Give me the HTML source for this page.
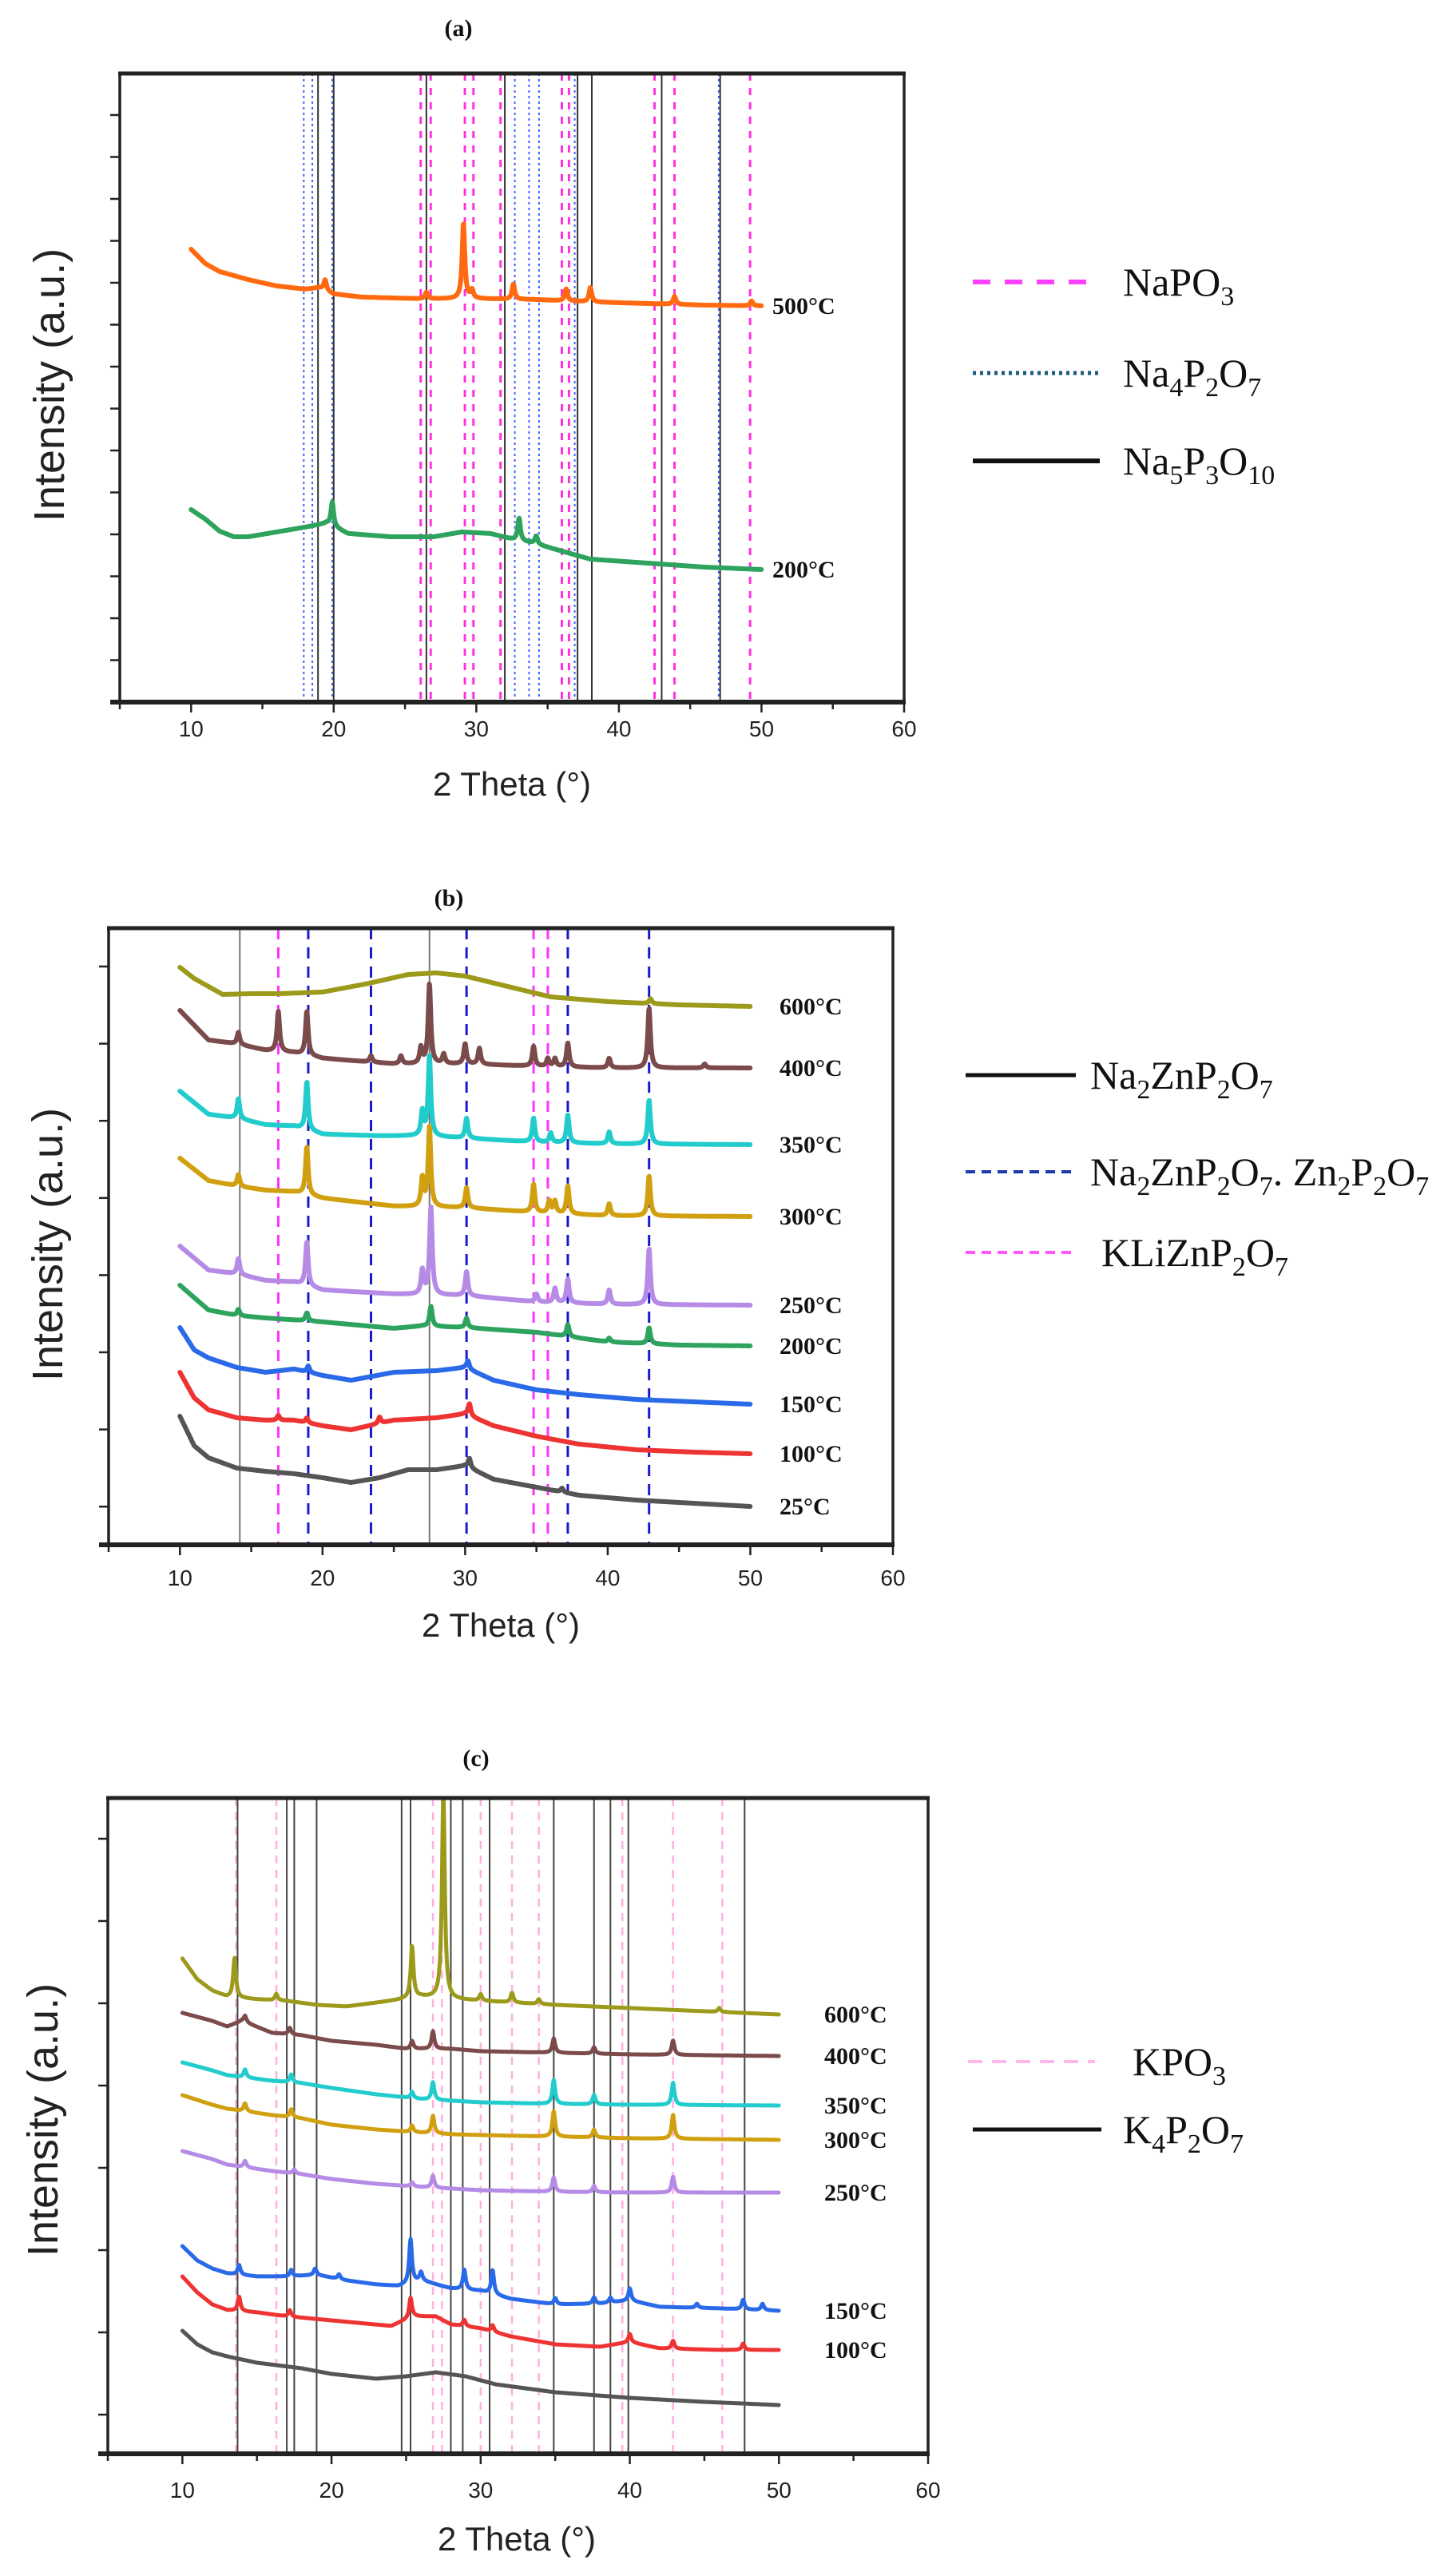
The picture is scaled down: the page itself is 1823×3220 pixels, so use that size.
<!DOCTYPE html>
<html><head><meta charset="utf-8"><title>XRD patterns</title>
<style>
html,body{margin:0;padding:0;background:#fff;}
svg{display:block;}
.tick{font-family:"Liberation Sans",sans-serif;font-size:28px;fill:#222;}
.axt{font-family:"Liberation Sans",sans-serif;font-size:42px;fill:#222;}
.ylab{font-family:"Liberation Sans",sans-serif;font-size:54px;fill:#222;}
.ttl{font-family:"Liberation Serif",serif;font-size:30px;font-weight:bold;fill:#111;}
.tl{font-family:"Liberation Serif",serif;font-size:30px;font-weight:bold;fill:#111;}
.leg{font-family:"Liberation Serif",serif;font-size:50px;fill:#111;}
</style></head>
<body>
<svg id="fig" width="1823" height="3220" viewBox="0 0 1823 3220" xmlns="http://www.w3.org/2000/svg">
<defs>
<clipPath id="clipA"><rect x="150" y="92" width="982" height="787"/></clipPath>
<clipPath id="clipB"><rect x="136" y="1162" width="982" height="772"/></clipPath>
<clipPath id="clipC"><rect x="135" y="2251" width="1027" height="821"/></clipPath>
</defs>
<text class="ttl" x="574" y="45" text-anchor="middle">(a)</text>
<text class="ttl" x="562" y="1134" text-anchor="middle">(b)</text>
<text class="ttl" x="596" y="2211" text-anchor="middle">(c)</text>

<g>
<line x1="1218" y1="353" x2="1377" y2="353" stroke="#ff40ff" stroke-width="6" stroke-dasharray="22 18"/>
<text class="leg" x="1406" y="370">NaPO<tspan font-size="34" dy="12">3</tspan></text>
<line x1="1218" y1="467" x2="1377" y2="467" stroke="#1a5a80" stroke-width="5" stroke-dasharray="4 5"/>
<text class="leg" x="1406" y="484">Na<tspan font-size="34" dy="12">4</tspan><tspan dy="-12">P</tspan><tspan font-size="34" dy="12">2</tspan><tspan dy="-12">O</tspan><tspan font-size="34" dy="12">7</tspan></text>
<line x1="1218" y1="577" x2="1377" y2="577" stroke="#111" stroke-width="6"/>
<text class="leg" x="1406" y="594">Na<tspan font-size="34" dy="12">5</tspan><tspan dy="-12">P</tspan><tspan font-size="34" dy="12">3</tspan><tspan dy="-12">O</tspan><tspan font-size="34" dy="12">10</tspan></text>
</g>
<g>
<line x1="1209" y1="1346" x2="1347" y2="1346" stroke="#111" stroke-width="5"/>
<text class="leg" x="1365" y="1363">Na<tspan font-size="34" dy="12">2</tspan><tspan dy="-12">ZnP</tspan><tspan font-size="34" dy="12">2</tspan><tspan dy="-12">O</tspan><tspan font-size="34" dy="12">7</tspan></text>
<line x1="1209" y1="1467" x2="1347" y2="1467" stroke="#1a3ab0" stroke-width="4" stroke-dasharray="12 8"/>
<text class="leg" x="1365" y="1484">Na<tspan font-size="34" dy="12">2</tspan><tspan dy="-12">ZnP</tspan><tspan font-size="34" dy="12">2</tspan><tspan dy="-12">O</tspan><tspan font-size="34" dy="12">7</tspan><tspan dy="-12">. Zn</tspan><tspan font-size="34" dy="12">2</tspan><tspan dy="-12">P</tspan><tspan font-size="34" dy="12">2</tspan><tspan dy="-12">O</tspan><tspan font-size="34" dy="12">7</tspan></text>
<line x1="1209" y1="1568" x2="1347" y2="1568" stroke="#ff55ff" stroke-width="4" stroke-dasharray="12 8"/>
<text class="leg" x="1379" y="1585">KLiZnP<tspan font-size="34" dy="12">2</tspan><tspan dy="-12">O</tspan><tspan font-size="34" dy="12">7</tspan></text>
</g>
<g>
<line x1="1212" y1="2581" x2="1371" y2="2581" stroke="#ffb8ec" stroke-width="4" stroke-dasharray="18 12"/>
<text class="leg" x="1418" y="2598">KPO<tspan font-size="34" dy="12">3</tspan></text>
<line x1="1218" y1="2666" x2="1379" y2="2666" stroke="#111" stroke-width="5"/>
<text class="leg" x="1406" y="2683">K<tspan font-size="34" dy="12">4</tspan><tspan dy="-12">P</tspan><tspan font-size="34" dy="12">2</tspan><tspan dy="-12">O</tspan><tspan font-size="34" dy="12">7</tspan></text>
</g>
</svg>
<script>
// ---------- Panel (a) data ----------
const aPink = [26.1,26.8,29.2,29.8,31.7,36.0,36.5,42.5,43.9,49.2];
const aBlue = [17.9,18.5,19.9,32.7,33.7,34.4,36.9,47.0];
const aBlack = [18.9,20.0,26.5,32.0,37.1,38.1,43.0,47.1];
const a500_t = [10,11,12,14,16,18,19,20,22,26,30,34,38,42,46,50];
const a500_v = [567,549,539,529,521,517,519,511,507,505,505,504,501,499,497,496];
const a500_pk = [19.4,26.5,29.1,29.7,32.6,36.3,38.0,43.9,49.3];
const a500_ph = [13,8,94,10,19,15,18,10,6];
const a200_t = [10,11,12,13,14,16,18,19.5,21,24,27,29,31,32.5,34,36,38,42,46,50];
const a200_v = [241,229,214,207,207,213,219,224,211,207,207,213,211,204,199,189,179,174,169,166];
const a200_pk = [19.9,33.0,34.2];
const a200_ph = [30,28,10];

// ---------- Panel (b) data ----------
const bBlack = [14.2,27.5];
const bPink = [16.9,34.8,35.8];
const bBlue = [19.0,23.4,30.1,37.2,42.9];
const b600_t = [10,11,13,15,17,20,23,26,28,30,33,36,40,45,50];
const b600_v = [723,709,689,690,690,692,702,714,716,712,699,686,680,676,674];
const b600_pk = [43.0];
const b600_ph = [6];
const b400_t = [10,12,14,16,18,20,25,30,35,40,50];
const b400_v = [669,632,627,619,616,609,602,602,599,597,597];
const b400_pk = [14.1,16.9,18.9,23.4,25.5,26.9,27.5,28.5,30.0,31.0,34.8,35.8,36.3,37.2,40.1,42.9,46.8];
const b400_ph = [15,50,55,8,10,20,100,12,25,20,25,10,10,30,12,75,5];
const b350_t = [10,12,14,16,18,20,24,27,30,35,40,50];
const b350_v = [568,539,534,526,524,514,512,512,509,504,502,501];
const b350_pk = [14.1,18.9,27.0,27.5,30.1,34.8,36.0,37.2,40.1,42.9];
const b350_ph = [25,60,30,100,25,30,12,35,15,55];
const b300_t = [10,12,14,16,18,20,25,30,35,40,50];
const b300_v = [484,456,449,444,442,434,424,422,416,412,411];
const b300_pk = [14.1,18.9,27.0,27.5,30.1,34.8,35.9,36.3,37.2,40.1,42.9];
const b300_ph = [15,60,35,100,25,35,15,15,35,15,50];
const b250_t = [10,12,14,16,18,20,25,30,35,40,50];
const b250_v = [374,344,339,331,329,319,314,312,304,301,300];
const b250_pk = [14.1,18.9,27.0,27.6,30.1,35.0,36.3,37.2,40.1,42.9];
const b250_ph = [20,55,30,110,30,10,18,30,18,70];
const b200_t = [10,12,14,16,20,25,27,30,35,40,45,50];
const b200_v = [325,294,287,284,279,271,274,272,266,254,250,249];
const b200_pk = [14.1,18.9,27.6,30.1,37.2,40.1,42.9];
const b200_ph = [8,10,25,12,15,5,20];
const b150_t = [10,11,12,14,16,18,20,22,25,28,30,32,35,38,42,46,50];
const b150_v = [272,244,234,222,216,220,212,206,216,218,222,206,194,188,182,179,176];
const b150_pk = [19.0,30.2];
const b150_ph = [8,10];
const b100_t = [10,11,12,14,16,18,20,22,25,28,30,32,35,38,42,46,50];
const b100_v = [216,184,169,159,156,156,149,144,156,159,164,149,136,126,119,116,114];
const b100_pk = [16.9,18.9,24.0,30.3];
const b100_ph = [6,6,8,15];
const b25_t = [10,11,12,14,16,18,20,22,24,26,28,30,32,35,38,42,46,50];
const b25_v = [161,124,109,96,92,89,84,78,84,94,94,99,82,72,62,56,52,48];
const b25_pk = [30.3,36.8];
const b25_ph = [12,5];

// ---------- Panel (c) data ----------
const cBlack = [13.7,17.0,17.5,19.0,24.7,25.3,28.0,28.8,30.6,34.9,37.6,38.7,39.9,47.7];
const cPink = [13.6,16.3,26.8,27.4,30.0,32.1,33.9,39.5,42.9,46.2];
const c600_t = [10,11,12,13,15,17,19,21,24,26,28,30,35,40,45,50];
const c600_v = [620,594,580,572,569,567,562,560,567,572,569,567,562,558,554,550];
const c600_pk = [13.5,16.3,25.4,27.5,30.0,32.1,33.9,46.0];
const c600_ph = [50,8,65,260,8,12,6,5];
const c400_t = [10,12,13,14,16,18,20,23,25,28,30,35,40,50];
const c400_v = [552,542,535,542,527,524,517,512,507,507,504,502,500,498];
const c400_pk = [14.2,17.2,25.4,26.8,34.9,37.6,42.9];
const c400_ph = [8,8,10,22,18,8,18];
const c350_t = [10,12,13,16,18,20,23,26,28,30,35,40,50];
const c350_v = [490,480,474,467,464,458,450,444,442,440,438,437,436];
const c350_pk = [14.2,17.3,25.4,26.8,34.9,37.6,42.9];
const c350_ph = [10,10,8,22,30,12,28];
const c300_t = [10,12,13,16,18,20,23,26,28,30,35,40,50];
const c300_v = [449,437,432,424,420,412,406,402,400,399,397,395,393];
const c300_pk = [14.2,17.3,25.4,26.8,34.9,37.6,42.9];
const c300_ph = [10,10,8,22,32,10,30];
const c250_t = [10,12,13,16,18,20,23,26,28,30,35,40,50];
const c250_v = [379,369,362,354,350,344,338,334,332,330,328,327,327];
const c250_pk = [14.2,17.5,25.4,26.8,34.9,37.6,42.9];
const c250_ph = [8,5,5,15,18,8,20];
const c150_t = [10,11,12,13,15,17,19,21,23,24.5,26,28,30,32,35,38,40,42,46,50];
const c150_v = [260,242,232,226,222,222,224,217,212,210,217,207,204,194,187,188,192,184,182,179];
const c150_pk = [13.8,17.3,18.9,20.5,25.3,26.0,28.9,30.8,35.0,37.6,38.7,40.0,44.5,47.6,48.9];
const c150_ph = [12,8,8,6,55,10,25,30,8,8,6,15,5,12,8];
const c100_t = [10,11,12,13,15,17,20,24,25.5,27,28,30,32,35,38,40,42,46,50];
const c100_v = [222,202,187,180,177,172,167,160,172,172,162,157,147,137,134,140,132,130,130];
const c100_pk = [13.8,17.2,25.3,28.9,30.8,40.0,42.9,47.6];
const c100_ph = [18,8,25,8,8,10,10,8];
const c25_t = [10,11,12,13,15,18,20,23,25,27,29,31,35,40,45,50];
const c25_v = [154,137,127,122,114,107,100,94,97,102,97,87,77,70,65,61];
const c25_pk = [];
const c25_ph = [];

const xTicks = [10,20,30,40,50,60];

const NS = 'http://www.w3.org/2000/svg';
const svg = document.getElementById('fig');
function mk(tag, attrs, parent){
  const e = document.createElementNS(NS, tag);
  for (const k in attrs) e.setAttribute(k, attrs[k]);
  (parent||svg).appendChild(e);
  return e;
}
function makeX(left, right){ return t => left + (t-5)*(right-left)/55; }
function makeY(bottom){ return v => bottom - v; }
function baseAt(ts, vs, t){
  if (t <= ts[0]) return vs[0];
  for (let i=1;i<ts.length;i++){
    if (t <= ts[i]){ const f=(t-ts[i-1])/(ts[i]-ts[i-1]); return vs[i-1]+f*(vs[i]-vs[i-1]); }
  }
  return vs[vs.length-1];
}

function panel(P){
  const X = makeX(P.left, P.right), Y = makeY(P.bottom);
  const g = mk('g', {});
  
  
  const plot = mk('g', {'clip-path':'url(#'+P.clip+')'}, g);
  P.refs.forEach(r => {
    r.vals.forEach(v => {
      const l = mk('line', {x1:X(v), x2:X(v), y1:P.top, y2:P.bottom, stroke:r.color, 'stroke-width':r.w, 'stroke-dasharray':r.dash||'none'}, plot);
      
      
    });
  });
  P.series.forEach(s => {
    let d = '';
    for (let t=10; t<=50.0001; t+=0.03){
      let v = baseAt(s.t, s.v, t);
      for (let k=0;k<s.pk.length;k++){ const z=(t-s.pk[k])/0.11; v += s.ph[k]/(1+z*z); }
      d += (d?'L':'M') + X(t).toFixed(1) + ' ' + Y(v).toFixed(1);
    }
    const p = mk('path', {d:d, fill:'none', stroke:s.color, 'stroke-width':P.sw, 'stroke-linejoin':'round', 'stroke-linecap':'round'}, plot);
    
    
    if (s.showLabel !== false){
      const tx = mk('text', {class:'tl', x:P.labelX, y:Y(s.v[s.v.length-1])+10}, g);
      tx.textContent = s.label;
      
      
    }
  });
  const fr = mk('rect', {x:P.left, y:P.top, width:P.right-P.left, height:P.bottom-P.top, fill:'none', stroke:'#222', 'stroke-width':3.5}, g);
  
  
  mk('line', {x1:P.left-2, x2:P.right+2, y1:P.top, y2:P.top, stroke:'#222', 'stroke-width':5}, g);
  mk('line', {x1:P.left-12, x2:P.right+2, y1:P.bottom, y2:P.bottom, stroke:'#222', 'stroke-width':6}, g);
  for (let t=5; t<=60; t+=5){
    const major = t % 10 === 0;
    const tk = mk('line', {x1:X(t), x2:X(t), y1:P.bottom, y2:P.bottom + (major?13:9), stroke:'#222', 'stroke-width':2.5}, g);
    
    
  }
  xTicks.forEach(t => {
    const tl = mk('text', {class:'tick', x:X(t), y:P.bottom+P.tickDy, 'text-anchor':'middle'}, g);
    tl.textContent = String(t);
    
    
  });
  for (let k=0; k<P.yN; k++){
    const yy = P.y0 + k*P.yStep;
    const tk = mk('line', {x1:P.left-12, x2:P.left, y1:yy, y2:yy, stroke:'#222', 'stroke-width':2.5}, g);
    
    
  }
  const xl = mk('text', {class:'axt', x:P.xlab[0], y:P.xlab[1], 'text-anchor':'middle'}, g);
  xl.textContent = '2 Theta (°)';
  
  
  const yl = mk('text', {class:'ylab', x:0, y:0, 'text-anchor':'middle', transform:'translate('+P.ylab[0]+','+P.ylab[1]+') rotate(-90)'}, g);
  yl.textContent = 'Intensity (a.u.)';
  
  
}

panel({id:'panel-a', clip:'clipA', left:150, right:1132, top:92, bottom:879, sw:6, labelX:967, tickDy:43,
  y0:144, yStep:52.5, yN:14, xlab:[641,996], ylab:[80,482],
  refs:[
    {name:'napo3', vals:aPink, color:'#ff33dd', w:3, dash:'9 9'},
    {name:'na4p2o7', vals:aBlue, color:'#4060ff', w:2, dash:'3 4'},
    {name:'na5p3o10', vals:aBlack, color:'#333', w:2}],
  series:[
    {label:'500°C', color:'#ff6a10', t:a500_t, v:a500_v, pk:a500_pk, ph:a500_ph},
    {label:'200°C', color:'#2ea35e', t:a200_t, v:a200_v, pk:a200_pk, ph:a200_ph}]});

panel({id:'panel-b', clip:'clipB', left:136, right:1118, top:1162, bottom:1934, sw:6, labelX:976, tickDy:51,
  y0:1210, yStep:96.6, yN:8, xlab:[627,2049], ylab:[78,1558],
  refs:[
    {name:'na2znp2o7', vals:bBlack, color:'#777', w:2},
    {name:'kliznp2o7', vals:bPink, color:'#ff33ff', w:3, dash:'14 10'},
    {name:'mixed', vals:bBlue, color:'#1a1acc', w:3, dash:'14 10'}],
  series:[
    {label:'600°C', color:'#9c9a1a', t:b600_t, v:b600_v, pk:b600_pk, ph:b600_ph},
    {label:'400°C', color:'#7b4a4a', t:b400_t, v:b400_v, pk:b400_pk, ph:b400_ph},
    {label:'350°C', color:'#22cccc', t:b350_t, v:b350_v, pk:b350_pk, ph:b350_ph},
    {label:'300°C', color:'#d1a010', t:b300_t, v:b300_v, pk:b300_pk, ph:b300_ph},
    {label:'250°C', color:'#b58be6', t:b250_t, v:b250_v, pk:b250_pk, ph:b250_ph},
    {label:'200°C', color:'#2ea35e', t:b200_t, v:b200_v, pk:b200_pk, ph:b200_ph},
    {label:'150°C', color:'#2a6ae8', t:b150_t, v:b150_v, pk:b150_pk, ph:b150_ph},
    {label:'100°C', color:'#ee3333', t:b100_t, v:b100_v, pk:b100_pk, ph:b100_ph},
    {label:'25°C', color:'#555555', t:b25_t, v:b25_v, pk:b25_pk, ph:b25_ph}]});

panel({id:'panel-c', clip:'clipC', left:135, right:1162, top:2251, bottom:3072, sw:5, labelX:1032, tickDy:55,
  y0:2302, yStep:103, yN:8, xlab:[647,3193], ylab:[72,2654],
  refs:[
    {name:'kpo3', vals:cPink, color:'#ffb0e0', w:2.5, dash:'10 8'},
    {name:'k4p2o7', vals:cBlack, color:'#444', w:2}],
  series:[
    {label:'600°C', color:'#9c9a1a', t:c600_t, v:c600_v, pk:c600_pk, ph:c600_ph},
    {label:'400°C', color:'#7b4a4a', t:c400_t, v:c400_v, pk:c400_pk, ph:c400_ph},
    {label:'350°C', color:'#22cccc', t:c350_t, v:c350_v, pk:c350_pk, ph:c350_ph},
    {label:'300°C', color:'#d1a010', t:c300_t, v:c300_v, pk:c300_pk, ph:c300_ph},
    {label:'250°C', color:'#b58be6', t:c250_t, v:c250_v, pk:c250_pk, ph:c250_ph},
    {label:'150°C', color:'#2a6ae8', t:c150_t, v:c150_v, pk:c150_pk, ph:c150_ph},
    {label:'100°C', color:'#ee3333', t:c100_t, v:c100_v, pk:c100_pk, ph:c100_ph},
    {label:'25°C', color:'#555555', t:c25_t, v:c25_v, pk:c25_pk, ph:c25_ph, showLabel:false}]});
</script>
</body></html>
